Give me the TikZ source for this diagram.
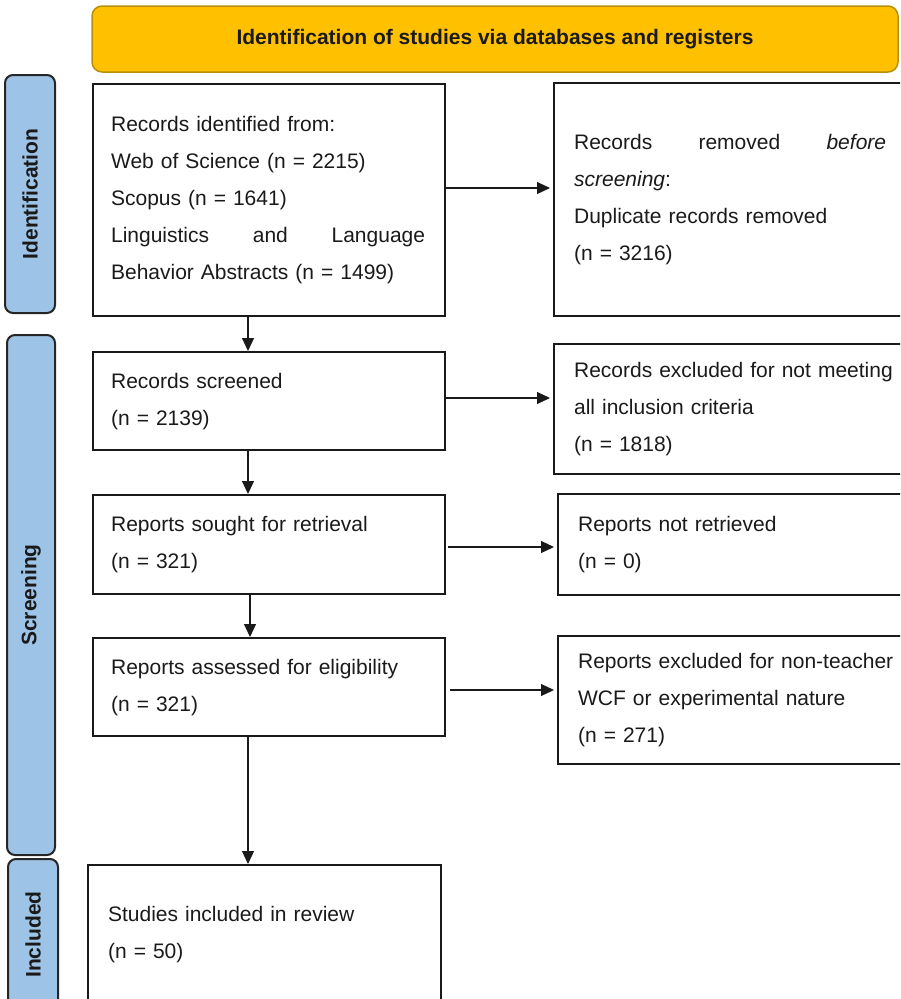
\documentclass[tikz,border=0pt]{standalone}
\usepackage{fontspec}
\setmainfont{Liberation Sans}
\usetikzlibrary{arrows.meta}
\definecolor{bannerfill}{HTML}{FFC000}
\definecolor{bannerdraw}{HTML}{B8900A}
\definecolor{barfill}{HTML}{9DC3E6}
\definecolor{bardraw}{HTML}{262626}
\definecolor{ink}{HTML}{1A1A1A}
\begin{document}
\begin{tikzpicture}[x=1pt,y=-1pt,
  fbox/.style={draw=ink, text=ink, line width=2.2pt, anchor=north west, inner ysep=0pt, align=left, font=\fontsize{21}{37}\selectfont},
  lbox/.style={fbox, inner xsep=18pt, text width=316pt},
  rbox/.style={fbox, inner xsep=20pt, text width=320pt},
  phase/.style={draw=bardraw, fill=barfill, text=ink, line width=2pt, rounded corners=8pt, inner sep=0pt, font=\fontsize{21}{25}\selectfont\bfseries},
  arr/.style={draw=ink, line width=1.2pt, -{Triangle[length=13pt,width=12pt]}}
]
\useasboundingbox (0,0) rectangle (900,999);
\clip (0,0) rectangle (900,999);

% banner
\node[draw=bannerdraw, fill=bannerfill, text=ink, line width=1.5pt, rounded corners=10pt,
      minimum width=806pt, minimum height=66pt, inner sep=0pt,
      font=\fontsize{21}{25}\selectfont\bfseries] (banner) at (495,39)
      {Identification of studies via databases and registers};

% phase bars
\node[phase, rotate=90, minimum width=238pt, minimum height=50pt] (pid) at (30,194) {Identification};
\node[phase, rotate=90, minimum width=520pt, minimum height=48pt] (pscr) at (31,595) {Screening};
\node[phase, rotate=90, minimum width=151pt, minimum height=50pt] (pinc) at (33,934.5) {Included};

% left column
\node[lbox, minimum height=232pt] (b1) at (92,83)
 {Records identified from:\\
  Web of Science (n = 2215)\\
  Scopus (n = 1641)\\
  \makebox[314pt][l]{Linguistics\hfill and\hfill Language}\\
  Behavior Abstracts (n = 1499)};
\node[lbox, minimum height=98pt] (b2) at (92,351)
 {Records screened\\(n = 2139)};
\node[lbox, minimum height=99pt] (b3) at (92,494)
 {Reports sought for retrieval\\(n = 321)};
\node[lbox, minimum height=98pt] (b4) at (92,637)
 {Reports assessed for eligibility\\(n = 321)};
\node[lbox, inner xsep=20pt, text width=313pt, minimum height=139pt] (b5) at (87,864)
 {Studies included in review\\(n = 50)};

% right column
\node[rbox, minimum height=233pt] (r1) at (553,82)
 {\makebox[312pt][l]{Records\hfill removed\hfill \textit{before}}\\
  \textit{screening}:\\
  Duplicate records removed\\
  (n = 3216)};
\node[rbox, minimum height=130pt] (r2) at (553,343)
 {Records excluded for not meeting\\all inclusion criteria\\(n = 1818)};
\node[rbox, minimum height=101pt] (r3) at (557,493)
 {Reports not retrieved\\(n = 0)};
\node[rbox, minimum height=128pt] (r4) at (557,635)
 {Reports excluded for non-teacher\\WCF or experimental nature\\(n = 271)};

% connectors
\coordinate (vx) at (248,0);
\coordinate (vx2) at (250,0);
\draw[arr] (b1.south -| vx) -- (b2.north -| vx);
\draw[arr] (b2.south -| vx) -- (b3.north -| vx);
\draw[arr] (b3.south -| vx2) -- (b4.north -| vx2);
\draw[arr] (b4.south -| vx) -- (b5.north -| vx);

\coordinate (h1) at (0,188);
\coordinate (h2) at (0,398);
\coordinate (h3) at (0,547);
\coordinate (h4) at (0,690);
\draw[arr, shorten >=3pt] (b1.east |- h1) -- (r1.west |- h1);
\draw[arr, shorten >=3pt] (b2.east |- h2) -- (r2.west |- h2);
\draw[arr, shorten <=2pt, shorten >=3pt] (b3.east |- h3) -- (r3.west |- h3);
\draw[arr, shorten <=4pt, shorten >=3pt] (b4.east |- h4) -- (r4.west |- h4);
\end{tikzpicture}
\end{document}
